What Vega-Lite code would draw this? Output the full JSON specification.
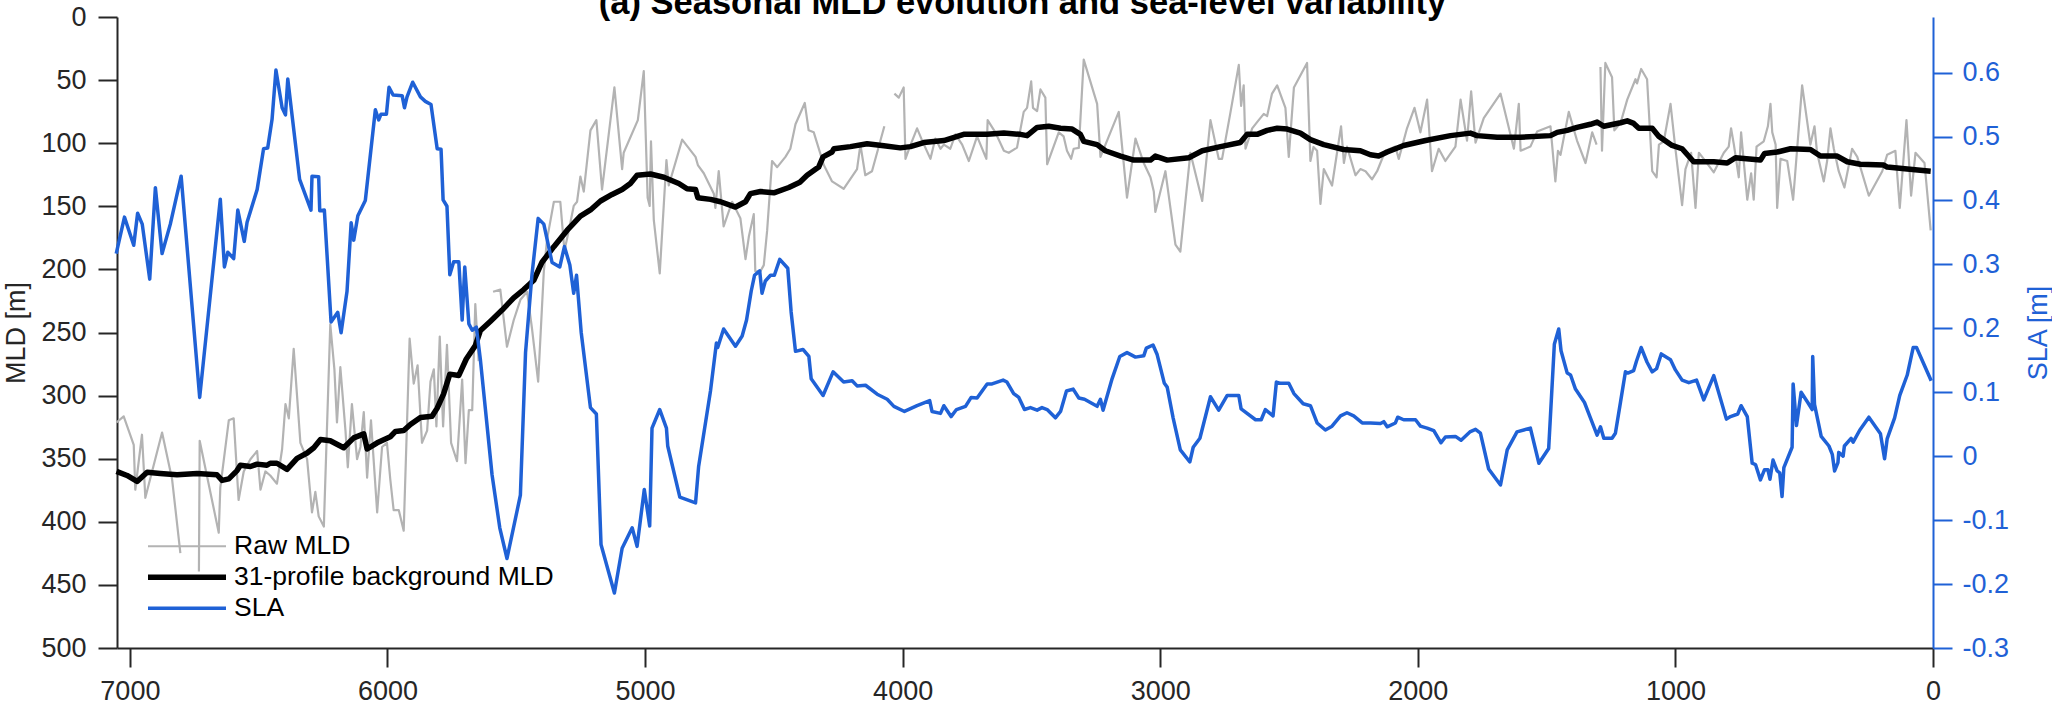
{
 "$schema": "https://vega.github.io/schema/vega-lite/v6.json",
 "width": 1816, "height": 631,
 "autosize": {"type": "none"},
 "padding": {"left": 117, "top": 17, "right": 119, "bottom": 61},
 "background": "white",
 "config": {"view": {"stroke": null}, "font": "Liberation Sans", "axis": {"grid": false}},
 "datasets": {
  "sla": [{"d":7053,"v":0.317},{"d":7021,"v":0.374},{"d":6985,"v":0.330},{"d":6970,"v":0.380},{"d":6952,"v":0.363},{"d":6923,"v":0.277},{"d":6901,"v":0.420},{"d":6875,"v":0.317},{"d":6843,"v":0.363},{"d":6801,"v":0.438},{"d":6729,"v":0.092},{"d":6649,"v":0.402},{"d":6633,"v":0.296},{"d":6620,"v":0.319},{"d":6597,"v":0.309},{"d":6581,"v":0.385},{"d":6556,"v":0.336},{"d":6545,"v":0.366},{"d":6506,"v":0.417},{"d":6481,"v":0.481},{"d":6465,"v":0.482},{"d":6448,"v":0.527},{"d":6433,"v":0.604},{"d":6409,"v":0.545},{"d":6396,"v":0.534},{"d":6387,"v":0.590},{"d":6341,"v":0.433},{"d":6297,"v":0.385},{"d":6293,"v":0.438},{"d":6267,"v":0.437},{"d":6263,"v":0.384},{"d":6245,"v":0.385},{"d":6219,"v":0.210},{"d":6193,"v":0.225},{"d":6180,"v":0.193},{"d":6157,"v":0.258},{"d":6141,"v":0.365},{"d":6131,"v":0.338},{"d":6115,"v":0.376},{"d":6086,"v":0.400},{"d":6047,"v":0.542},{"d":6034,"v":0.526},{"d":6025,"v":0.535},{"d":6004,"v":0.535},{"d":5994,"v":0.577},{"d":5978,"v":0.565},{"d":5943,"v":0.564},{"d":5934,"v":0.545},{"d":5924,"v":0.562},{"d":5902,"v":0.585},{"d":5872,"v":0.562},{"d":5853,"v":0.555},{"d":5831,"v":0.550},{"d":5807,"v":0.481},{"d":5792,"v":0.480},{"d":5784,"v":0.401},{"d":5769,"v":0.391},{"d":5758,"v":0.284},{"d":5743,"v":0.304},{"d":5723,"v":0.304},{"d":5710,"v":0.213},{"d":5700,"v":0.296},{"d":5684,"v":0.207},{"d":5671,"v":0.197},{"d":5655,"v":0.202},{"d":5639,"v":0.150},{"d":5594,"v":-0.029},{"d":5564,"v":-0.112},{"d":5536,"v":-0.160},{"d":5484,"v":-0.061},{"d":5464,"v":0.162},{"d":5439,"v":0.284},{"d":5415,"v":0.372},{"d":5393,"v":0.363},{"d":5361,"v":0.303},{"d":5331,"v":0.296},{"d":5313,"v":0.328},{"d":5292,"v":0.299},{"d":5277,"v":0.255},{"d":5266,"v":0.283},{"d":5248,"v":0.194},{"d":5212,"v":0.076},{"d":5189,"v":0.066},{"d":5171,"v":-0.138},{"d":5119,"v":-0.214},{"d":5089,"v":-0.144},{"d":5050,"v":-0.112},{"d":5031,"v":-0.141},{"d":5003,"v":-0.052},{"d":4982,"v":-0.109},{"d":4973,"v":0.044},{"d":4943,"v":0.073},{"d":4917,"v":0.044},{"d":4912,"v":0.016},{"d":4865,"v":-0.064},{"d":4804,"v":-0.073},{"d":4792,"v":-0.016},{"d":4746,"v":0.102},{"d":4723,"v":0.177},{"d":4718,"v":0.170},{"d":4695,"v":0.199},{"d":4649,"v":0.172},{"d":4623,"v":0.188},{"d":4606,"v":0.213},{"d":4588,"v":0.258},{"d":4575,"v":0.283},{"d":4555,"v":0.290},{"d":4546,"v":0.255},{"d":4533,"v":0.274},{"d":4513,"v":0.283},{"d":4498,"v":0.283},{"d":4477,"v":0.308},{"d":4446,"v":0.294},{"d":4433,"v":0.226},{"d":4416,"v":0.164},{"d":4387,"v":0.167},{"d":4364,"v":0.156},{"d":4355,"v":0.121},{"d":4309,"v":0.095},{"d":4270,"v":0.132},{"d":4229,"v":0.116},{"d":4196,"v":0.118},{"d":4177,"v":0.110},{"d":4144,"v":0.111},{"d":4099,"v":0.097},{"d":4060,"v":0.089},{"d":4034,"v":0.078},{"d":3993,"v":0.070},{"d":3944,"v":0.079},{"d":3895,"v":0.087},{"d":3886,"v":0.070},{"d":3853,"v":0.067},{"d":3840,"v":0.079},{"d":3812,"v":0.062},{"d":3791,"v":0.073},{"d":3756,"v":0.078},{"d":3734,"v":0.092},{"d":3711,"v":0.091},{"d":3672,"v":0.113},{"d":3653,"v":0.113},{"d":3610,"v":0.119},{"d":3595,"v":0.116},{"d":3569,"v":0.098},{"d":3549,"v":0.092},{"d":3527,"v":0.073},{"d":3504,"v":0.076},{"d":3478,"v":0.072},{"d":3459,"v":0.076},{"d":3439,"v":0.073},{"d":3407,"v":0.060},{"d":3387,"v":0.070},{"d":3364,"v":0.102},{"d":3338,"v":0.105},{"d":3316,"v":0.091},{"d":3294,"v":0.089},{"d":3245,"v":0.078},{"d":3232,"v":0.089},{"d":3222,"v":0.072},{"d":3187,"v":0.121},{"d":3157,"v":0.156},{"d":3129,"v":0.162},{"d":3096,"v":0.155},{"d":3064,"v":0.157},{"d":3054,"v":0.169},{"d":3028,"v":0.174},{"d":3012,"v":0.159},{"d":2984,"v":0.114},{"d":2973,"v":0.108},{"d":2950,"v":0.060},{"d":2922,"v":0.010},{"d":2885,"v":-0.009},{"d":2872,"v":0.014},{"d":2846,"v":0.028},{"d":2805,"v":0.093},{"d":2773,"v":0.072},{"d":2740,"v":0.095},{"d":2695,"v":0.095},{"d":2686,"v":0.074},{"d":2630,"v":0.057},{"d":2608,"v":0.057},{"d":2592,"v":0.073},{"d":2562,"v":0.063},{"d":2549,"v":0.116},{"d":2533,"v":0.114},{"d":2501,"v":0.114},{"d":2481,"v":0.098},{"d":2445,"v":0.082},{"d":2417,"v":0.079},{"d":2391,"v":0.052},{"d":2359,"v":0.041},{"d":2333,"v":0.047},{"d":2300,"v":0.063},{"d":2275,"v":0.068},{"d":2249,"v":0.063},{"d":2216,"v":0.052},{"d":2184,"v":0.052},{"d":2145,"v":0.051},{"d":2132,"v":0.054},{"d":2119,"v":0.046},{"d":2087,"v":0.052},{"d":2078,"v":0.061},{"d":2055,"v":0.057},{"d":2009,"v":0.057},{"d":1990,"v":0.047},{"d":1964,"v":0.044},{"d":1938,"v":0.040},{"d":1910,"v":0.021},{"d":1893,"v":0.030},{"d":1854,"v":0.031},{"d":1832,"v":0.025},{"d":1798,"v":0.038},{"d":1776,"v":0.042},{"d":1757,"v":0.036},{"d":1725,"v":-0.020},{"d":1679,"v":-0.045},{"d":1653,"v":0.010},{"d":1615,"v":0.038},{"d":1563,"v":0.044},{"d":1530,"v":-0.011},{"d":1492,"v":0.012},{"d":1470,"v":0.175},{"d":1453,"v":0.199},{"d":1444,"v":0.165},{"d":1420,"v":0.130},{"d":1407,"v":0.127},{"d":1388,"v":0.105},{"d":1353,"v":0.084},{"d":1330,"v":0.060},{"d":1304,"v":0.033},{"d":1291,"v":0.046},{"d":1278,"v":0.028},{"d":1246,"v":0.028},{"d":1233,"v":0.036},{"d":1213,"v":0.085},{"d":1194,"v":0.132},{"d":1185,"v":0.130},{"d":1162,"v":0.134},{"d":1151,"v":0.149},{"d":1133,"v":0.170},{"d":1110,"v":0.147},{"d":1090,"v":0.132},{"d":1073,"v":0.137},{"d":1055,"v":0.160},{"d":1019,"v":0.151},{"d":1000,"v":0.135},{"d":974,"v":0.119},{"d":948,"v":0.115},{"d":918,"v":0.119},{"d":890,"v":0.088},{"d":851,"v":0.126},{"d":802,"v":0.058},{"d":786,"v":0.062},{"d":758,"v":0.066},{"d":745,"v":0.079},{"d":721,"v":0.062},{"d":702,"v":-0.011},{"d":689,"v":-0.013},{"d":670,"v":-0.037},{"d":654,"v":-0.021},{"d":641,"v":-0.021},{"d":633,"v":-0.036},{"d":621,"v":-0.006},{"d":605,"v":-0.023},{"d":595,"v":-0.026},{"d":586,"v":-0.063},{"d":579,"v":-0.018},{"d":547,"v":0.014},{"d":543,"v":0.113},{"d":530,"v":0.048},{"d":512,"v":0.100},{"d":486,"v":0.084},{"d":469,"v":0.073},{"d":467,"v":0.156},{"d":460,"v":0.081},{"d":434,"v":0.031},{"d":404,"v":0.016},{"d":391,"v":0.003},{"d":382,"v":-0.023},{"d":369,"v":-0.010},{"d":366,"v":0.006},{"d":349,"v":0.000},{"d":344,"v":0.016},{"d":318,"v":0.028},{"d":310,"v":0.022},{"d":284,"v":0.041},{"d":249,"v":0.061},{"d":204,"v":0.035},{"d":188,"v":-0.004},{"d":178,"v":0.027},{"d":149,"v":0.060},{"d":129,"v":0.095},{"d":100,"v":0.127},{"d":77,"v":0.170},{"d":64,"v":0.170},{"d":7,"v":0.118}],
  "bg": [{"d":7052,"v":360},{"d":7011,"v":363.3},{"d":6972,"v":368},{"d":6933,"v":360.7},{"d":6882,"v":361.7},{"d":6817,"v":362.7},{"d":6739,"v":361.7},{"d":6662,"v":362.7},{"d":6642,"v":367.2},{"d":6616,"v":366},{"d":6584,"v":359.4},{"d":6571,"v":355.2},{"d":6532,"v":356.2},{"d":6506,"v":354.3},{"d":6468,"v":355.2},{"d":6455,"v":353.6},{"d":6429,"v":353.6},{"d":6390,"v":358.5},{"d":6351,"v":349.7},{"d":6312,"v":345.5},{"d":6286,"v":341.3},{"d":6260,"v":334.8},{"d":6222,"v":335.8},{"d":6170,"v":341.3},{"d":6131,"v":333.5},{"d":6092,"v":330.3},{"d":6079,"v":342.3},{"d":6040,"v":337.4},{"d":5989,"v":332.6},{"d":5969,"v":328.4},{"d":5937,"v":327.7},{"d":5911,"v":322.9},{"d":5872,"v":317.4},{"d":5827,"v":316.4},{"d":5807,"v":309.9},{"d":5782,"v":298.6},{"d":5758,"v":283},{"d":5723,"v":284},{"d":5694,"v":271},{"d":5659,"v":260.4},{"d":5639,"v":248.4},{"d":5600,"v":241},{"d":5555,"v":232.2},{"d":5510,"v":222.5},{"d":5471,"v":216},{"d":5432,"v":208.6},{"d":5400,"v":194.3},{"d":5354,"v":182},{"d":5303,"v":169.1},{"d":5251,"v":157.8},{"d":5212,"v":152.9},{"d":5173,"v":145.8},{"d":5128,"v":140.6},{"d":5089,"v":136.7},{"d":5057,"v":131.9},{"d":5031,"v":125.4},{"d":4979,"v":124.4},{"d":4927,"v":127},{"d":4869,"v":131.9},{"d":4837,"v":136.1},{"d":4804,"v":136.7},{"d":4795,"v":143.2},{"d":4746,"v":144.5},{"d":4707,"v":146.4},{"d":4649,"v":150.6},{"d":4610,"v":146.4},{"d":4591,"v":140},{"d":4552,"v":138.3},{"d":4500,"v":139.3},{"d":4442,"v":135.1},{"d":4399,"v":130.9},{"d":4371,"v":125.4},{"d":4326,"v":118.9},{"d":4309,"v":110.8},{"d":4274,"v":107},{"d":4267,"v":104.4},{"d":4203,"v":102.7},{"d":4138,"v":100.5},{"d":4073,"v":102.1},{"d":4009,"v":103.7},{"d":3970,"v":102.7},{"d":3918,"v":99.5},{"d":3840,"v":97.9},{"d":3763,"v":93},{"d":3672,"v":93},{"d":3607,"v":92},{"d":3543,"v":93},{"d":3517,"v":94},{"d":3478,"v":87.5},{"d":3433,"v":86.6},{"d":3387,"v":88.2},{"d":3342,"v":88.8},{"d":3310,"v":93},{"d":3297,"v":98.5},{"d":3245,"v":101.1},{"d":3213,"v":106},{"d":3154,"v":110.2},{"d":3103,"v":113.4},{"d":3038,"v":113.4},{"d":3019,"v":110.2},{"d":2973,"v":113.4},{"d":2889,"v":111.5},{"d":2837,"v":106},{"d":2766,"v":102.7},{"d":2689,"v":99.5},{"d":2663,"v":93},{"d":2624,"v":93},{"d":2585,"v":89.8},{"d":2546,"v":88.2},{"d":2507,"v":88.8},{"d":2456,"v":92},{"d":2417,"v":97.2},{"d":2365,"v":101.1},{"d":2288,"v":105},{"d":2223,"v":106},{"d":2184,"v":109.2},{"d":2152,"v":110.2},{"d":2119,"v":107},{"d":2055,"v":101.8},{"d":1970,"v":97.9},{"d":1873,"v":94},{"d":1796,"v":92},{"d":1770,"v":94},{"d":1692,"v":95.3},{"d":1602,"v":95.3},{"d":1485,"v":94},{"d":1459,"v":91.4},{"d":1420,"v":89.8},{"d":1382,"v":87.5},{"d":1330,"v":85},{"d":1304,"v":83.3},{"d":1278,"v":86.6},{"d":1213,"v":83.8},{"d":1187,"v":82.3},{"d":1162,"v":84.3},{"d":1142,"v":88.2},{"d":1090,"v":88.2},{"d":1064,"v":94.6},{"d":1013,"v":101.8},{"d":974,"v":104.4},{"d":929,"v":114.7},{"d":851,"v":114.7},{"d":799,"v":115.7},{"d":767,"v":111.5},{"d":670,"v":113.4},{"d":654,"v":108.2},{"d":605,"v":107},{"d":553,"v":104.4},{"d":476,"v":105},{"d":437,"v":110.2},{"d":372,"v":110.2},{"d":333,"v":114.7},{"d":282,"v":116.7},{"d":191,"v":117.3},{"d":178,"v":118.9},{"d":100,"v":120.5},{"d":9,"v":122.2}],
  "raw": [{"d":7052,"v":321.3},{"d":7024,"v":316.4},{"d":6985,"v":339},{"d":6979,"v":374.6},{"d":6953,"v":331},{"d":6940,"v":381},{"d":6875,"v":329.3},{"d":6836,"v":366.5},{"d":6804,"v":424.8},{"d":6770,"v":null},{"d":6732,"v":439.4},{"d":6729,"v":335.8},{"d":6655,"v":408.6},{"d":6649,"v":373},{"d":6616,"v":319.6},{"d":6597,"v":318},{"d":6578,"v":382.7},{"d":6558,"v":360.1},{"d":6532,"v":350.4},{"d":6506,"v":343.9},{"d":6493,"v":374.6},{"d":6474,"v":360.1},{"d":6455,"v":363.3},{"d":6429,"v":369.8},{"d":6409,"v":342.3},{"d":6396,"v":306.7},{"d":6383,"v":318},{"d":6364,"v":263},{"d":6338,"v":337.4},{"d":6312,"v":350.4},{"d":6293,"v":392.5},{"d":6280,"v":376.3},{"d":6267,"v":395.7},{"d":6247,"v":403.8},{"d":6222,"v":243.5},{"d":6206,"v":279.2},{"d":6196,"v":321.3},{"d":6183,"v":277.5},{"d":6163,"v":327.7},{"d":6154,"v":356.8},{"d":6138,"v":306.7},{"d":6118,"v":350.4},{"d":6105,"v":340.7},{"d":6092,"v":313.1},{"d":6079,"v":365},{"d":6064,"v":319.6},{"d":6040,"v":392.5},{"d":6021,"v":340.7},{"d":6002,"v":337.4},{"d":5989,"v":366.5},{"d":5976,"v":390.8},{"d":5956,"v":390.8},{"d":5937,"v":407},{"d":5914,"v":254.9},{"d":5898,"v":290.5},{"d":5883,"v":276},{"d":5866,"v":337.4},{"d":5846,"v":327.7},{"d":5833,"v":288.9},{"d":5820,"v":279.2},{"d":5810,"v":324.5},{"d":5797,"v":253.3},{"d":5784,"v":324.5},{"d":5769,"v":259.7},{"d":5753,"v":337.4},{"d":5730,"v":352},{"d":5710,"v":287.3},{"d":5697,"v":353.6},{"d":5684,"v":311.5},{"d":5671,"v":311.5},{"d":5659,"v":227.4},{"d":5646,"v":272.7},{"d":5620,"v":null},{"d":5590,"v":217.7},{"d":5562,"v":216},{"d":5536,"v":261.3},{"d":5510,"v":240.3},{"d":5484,"v":224.1},{"d":5458,"v":217.7},{"d":5439,"v":246.8},{"d":5415,"v":288.9},{"d":5393,"v":201.5},{"d":5380,"v":175.6},{"d":5354,"v":146.4},{"d":5329,"v":146.4},{"d":5313,"v":185.3},{"d":5296,"v":169.1},{"d":5277,"v":149.7},{"d":5264,"v":146.4},{"d":5251,"v":126.4},{"d":5238,"v":138.3},{"d":5212,"v":89.8},{"d":5189,"v":81.7},{"d":5167,"v":136.7},{"d":5119,"v":55.8},{"d":5089,"v":120.5},{"d":5083,"v":107.6},{"d":5028,"v":81.7},{"d":5005,"v":42.9},{"d":4990,"v":143.2},{"d":4982,"v":149.7},{"d":4977,"v":98.5},{"d":4966,"v":161},{"d":4943,"v":203.1},{"d":4917,"v":113.4},{"d":4908,"v":133.5},{"d":4856,"v":97.2},{"d":4804,"v":110.8},{"d":4795,"v":117.3},{"d":4772,"v":123.8},{"d":4733,"v":140},{"d":4727,"v":151.3},{"d":4714,"v":122.2},{"d":4695,"v":165.9},{"d":4662,"v":146.4},{"d":4630,"v":159.4},{"d":4610,"v":191.8},{"d":4597,"v":174},{"d":4578,"v":156.2},{"d":4572,"v":201.5},{"d":4552,"v":201.5},{"d":4539,"v":196.6},{"d":4526,"v":169.1},{"d":4507,"v":114.1},{"d":4487,"v":119},{"d":4455,"v":110.8},{"d":4436,"v":104.4},{"d":4416,"v":85},{"d":4380,"v":68.1},{"d":4365,"v":89.8},{"d":4345,"v":91.4},{"d":4306,"v":117.3},{"d":4274,"v":130.3},{"d":4229,"v":136.1},{"d":4177,"v":120.5},{"d":4164,"v":101.1},{"d":4145,"v":125.4},{"d":4119,"v":122.2},{"d":4071,"v":86.6},{"d":4050,"v":null},{"d":4032,"v":60.7},{"d":4015,"v":63.9},{"d":3996,"v":55.8},{"d":3989,"v":112.4},{"d":3972,"v":102.7},{"d":3944,"v":88.2},{"d":3921,"v":99.5},{"d":3892,"v":112.4},{"d":3873,"v":96.3},{"d":3853,"v":104.4},{"d":3840,"v":101.1},{"d":3815,"v":104.4},{"d":3795,"v":93},{"d":3769,"v":101.1},{"d":3743,"v":114.1},{"d":3711,"v":94.6},{"d":3675,"v":112.4},{"d":3670,"v":81.7},{"d":3640,"v":91.4},{"d":3607,"v":106},{"d":3588,"v":107.6},{"d":3556,"v":103.5},{"d":3530,"v":75.2},{"d":3517,"v":72},{"d":3501,"v":51},{"d":3494,"v":72},{"d":3478,"v":74.6},{"d":3465,"v":57.4},{"d":3446,"v":63.9},{"d":3439,"v":116.7},{"d":3394,"v":91.4},{"d":3375,"v":94.6},{"d":3362,"v":106},{"d":3346,"v":112.4},{"d":3336,"v":104.4},{"d":3316,"v":103.7},{"d":3297,"v":33.8},{"d":3245,"v":68.8},{"d":3232,"v":110.8},{"d":3161,"v":75.2},{"d":3129,"v":143.2},{"d":3096,"v":96.3},{"d":3064,"v":115.7},{"d":3038,"v":127},{"d":3025,"v":138.3},{"d":3019,"v":154.5},{"d":2980,"v":122.2},{"d":2941,"v":180.4},{"d":2922,"v":185.9},{"d":2883,"v":107.6},{"d":2837,"v":145.8},{"d":2805,"v":81.7},{"d":2773,"v":112.4},{"d":2760,"v":112.4},{"d":2727,"v":75.2},{"d":2695,"v":38},{"d":2686,"v":70.4},{"d":2676,"v":54.2},{"d":2669,"v":104.4},{"d":2643,"v":88.2},{"d":2624,"v":83.3},{"d":2598,"v":76.8},{"d":2585,"v":78.5},{"d":2566,"v":60.7},{"d":2546,"v":54.2},{"d":2514,"v":72},{"d":2501,"v":110.8},{"d":2481,"v":55.8},{"d":2430,"v":36.4},{"d":2417,"v":114.1},{"d":2405,"v":103},{"d":2391,"v":106},{"d":2378,"v":148.1},{"d":2365,"v":120.5},{"d":2333,"v":133.5},{"d":2298,"v":86.6},{"d":2287,"v":115.7},{"d":2275,"v":102.7},{"d":2242,"v":125.4},{"d":2223,"v":120.5},{"d":2203,"v":122.2},{"d":2178,"v":128.6},{"d":2158,"v":122.2},{"d":2126,"v":106},{"d":2087,"v":102.7},{"d":2074,"v":112.4},{"d":2042,"v":88.2},{"d":2013,"v":72},{"d":1990,"v":91.4},{"d":1964,"v":65.5},{"d":1945,"v":122.2},{"d":1919,"v":104.4},{"d":1893,"v":114.1},{"d":1854,"v":102.7},{"d":1834,"v":65.5},{"d":1809,"v":97.9},{"d":1793,"v":59},{"d":1776,"v":99.5},{"d":1744,"v":80.1},{"d":1679,"v":60.7},{"d":1627,"v":104.4},{"d":1608,"v":68.8},{"d":1601,"v":106},{"d":1563,"v":102.7},{"d":1537,"v":90.8},{"d":1485,"v":86.6},{"d":1466,"v":130.3},{"d":1456,"v":106},{"d":1446,"v":109.2},{"d":1414,"v":75.2},{"d":1382,"v":97.9},{"d":1349,"v":115.7},{"d":1323,"v":91.4},{"d":1306,"v":101.1},{"d":1298,"v":null},{"d":1291,"v":39.6},{"d":1285,"v":106},{"d":1272,"v":36.4},{"d":1246,"v":47.7},{"d":1237,"v":89.8},{"d":1213,"v":84},{"d":1187,"v":65.5},{"d":1155,"v":49.3},{"d":1149,"v":52.6},{"d":1133,"v":41.2},{"d":1110,"v":49.3},{"d":1090,"v":122.2},{"d":1073,"v":127},{"d":1064,"v":101.1},{"d":1045,"v":98.5},{"d":1019,"v":68.8},{"d":1000,"v":104.4},{"d":974,"v":149},{"d":961,"v":120.5},{"d":939,"v":107.6},{"d":922,"v":151.3},{"d":909,"v":107.6},{"d":890,"v":112.4},{"d":851,"v":123.1},{"d":812,"v":107.6},{"d":793,"v":102.7},{"d":784,"v":88.2},{"d":773,"v":101.1},{"d":754,"v":127},{"d":745,"v":91.4},{"d":721,"v":144.8},{"d":706,"v":123.8},{"d":696,"v":144.8},{"d":685,"v":102.7},{"d":657,"v":98.5},{"d":641,"v":86.6},{"d":631,"v":68.8},{"d":624,"v":91.4},{"d":611,"v":101.1},{"d":605,"v":151.3},{"d":592,"v":112.4},{"d":566,"v":114.1},{"d":543,"v":144.8},{"d":508,"v":54.2},{"d":476,"v":101.1},{"d":460,"v":86.6},{"d":450,"v":107.6},{"d":424,"v":130.3},{"d":411,"v":114.1},{"d":398,"v":88.2},{"d":385,"v":104.4},{"d":366,"v":122.2},{"d":344,"v":135.1},{"d":314,"v":104.4},{"d":294,"v":110.8},{"d":249,"v":141.6},{"d":197,"v":122.2},{"d":178,"v":109.2},{"d":146,"v":106},{"d":129,"v":151.3},{"d":103,"v":81.7},{"d":85,"v":141.6},{"d":68,"v":107.6},{"d":33,"v":115.7},{"d":9,"v":169.1}]
 },
 "layer": [
  {"layer": [
   {"data": {"name": "raw"},
    "mark": {"type": "line", "strokeWidth": 2.2, "strokeJoin": "round", "invalid": "break-paths-filter-domains"},
    "encoding": {
     "x": {"field": "d", "type": "quantitative", "scale": {"domain": [0, 7050], "reverse": true, "nice": false, "zero": false},
       "axis": {"values": [0,1000,2000,3000,4000,5000,6000,7000], "title": null, "format": "d", "labelFont": "Liberation Sans", "labelFontSize": 27, "labelColor": "#262626", "labelPadding": 11, "tickSize": 19, "tickWidth": 2, "tickColor": "#262626", "domainColor": "#262626", "domainWidth": 2, "labelFlush": false, "labelOverlap": false}},
     "y": {"field": "v", "type": "quantitative", "scale": {"domain": [0, 500], "reverse": true, "nice": false, "zero": false},
       "axis": {"values": [0,50,100,150,200,250,300,350,400,450,500], "title": "MLD [m]", "format": "d", "labelFont": "Liberation Sans", "labelFontSize": 27, "labelColor": "#262626", "labelPadding": 12, "tickSize": 19, "tickWidth": 2, "tickColor": "#262626", "domainColor": "#262626", "domainWidth": 2, "labelOverlap": false, "labelFlush": false, "titleFont": "Liberation Sans", "titleFontSize": 27, "titleFontWeight": "normal", "titleColor": "#262626", "titleAngle": 270, "titleBaseline": "alphabetic", "titleX": -92.5, "titleAlign": "center"}},
     "color": {"datum": "Raw MLD", "type": "nominal",
       "scale": {"domain": ["Raw MLD", "31-profile background MLD", "SLA"], "range": ["#b3b3b3", "#000000", "#1f61d6"]},
       "legend": {"orient": "none", "legendX": 56.75, "legendY": 516, "title": null, "symbolType": "stroke", "symbolSize": 6084, "symbolStrokeWidth": 3, "labelFont": "Liberation Sans", "labelFontSize": 26.5, "labelColor": "#000000", "labelOffset": 33.75, "rowPadding": 4, "padding": 0, "labelLimit": 0,
         "encode": {"symbols": {"update": {"strokeWidth": {"signal": "datum.value === 'Raw MLD' ? 2.2 : (datum.value === 'SLA' ? 3.5 : 5.5)"}}}}}}
    }},
   {"data": {"name": "bg"},
    "mark": {"type": "line", "strokeWidth": 5.5, "strokeJoin": "round"},
    "encoding": {
     "x": {"field": "d", "type": "quantitative"},
     "y": {"field": "v", "type": "quantitative"},
     "color": {"datum": "31-profile background MLD", "type": "nominal"}
    }}
  ]},
  {"data": {"name": "sla"},
   "mark": {"type": "line", "strokeWidth": 3.5, "strokeJoin": "round"},
   "encoding": {
    "x": {"field": "d", "type": "quantitative",
      "axis": {"orient": "top", "title": "(a) Seasonal MLD evolution and sea-level variability", "domain": false, "ticks": false, "labels": false, "grid": false, "titleFont": "Liberation Sans", "titleFontSize": 34.5, "titleFontWeight": "bold", "titleColor": "#000000", "titleBaseline": "alphabetic", "titleAlign": "center", "titleX": 905, "titleY": -4}},
    "y": {"field": "v", "type": "quantitative", "scale": {"domain": [-0.3, 0.687], "nice": false, "zero": false},
      "axis": {"orient": "right", "values": [-0.3,-0.2,-0.1,0,0.1,0.2,0.3,0.4,0.5,0.6], "labelExpr": "toString(round(datum.value*10)/10)", "title": "SLA [m]", "labelFont": "Liberation Sans", "labelFontSize": 27, "labelColor": "#1f61d6", "labelPadding": 10, "tickSize": 19, "tickWidth": 2, "tickColor": "#1f61d6", "domainColor": "#1f61d6", "domainWidth": 2, "labelOverlap": false, "labelFlush": false, "titleFont": "Liberation Sans", "titleFontSize": 27, "titleFontWeight": "normal", "titleColor": "#1f61d6", "titleAngle": 270, "titleBaseline": "alphabetic", "titleX": 113.5, "titleAlign": "center"}},
    "color": {"datum": "SLA", "type": "nominal"}
   }}
 ],
 "resolve": {"scale": {"y": "independent"}, "axis": {"x": "independent", "y": "independent"}}
}
